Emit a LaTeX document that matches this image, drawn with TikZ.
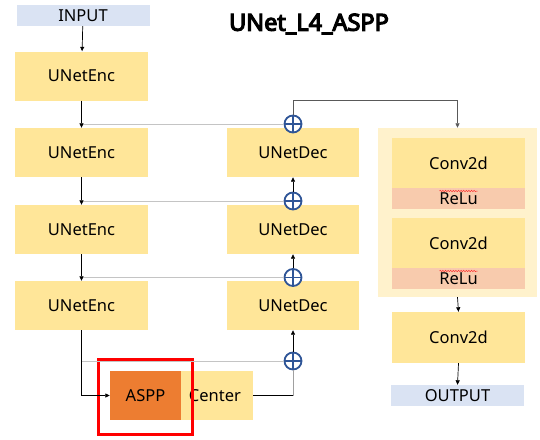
\documentclass[tikz,border=0pt]{standalone}
\usepackage{fontspec}
\setmainfont{Noto Sans}
\newfontfamily\titlefont{Noto Sans}[FakeBold=5]
\usetikzlibrary{arrows.meta,decorations.pathmorphing}
\definecolor{inblue}{HTML}{DAE3F3}
\definecolor{yel}{HTML}{FFE699}
\definecolor{lyel}{HTML}{FFF2CC}
\definecolor{peach}{HTML}{F8CBAD}
\definecolor{orng}{HTML}{ED7D31}
\definecolor{plusblue}{HTML}{2F5597}
\definecolor{skipgray}{HTML}{C4C4C4}
\definecolor{midgray}{HTML}{A0A0A0}
\definecolor{dkgray}{HTML}{595959}
\begin{document}
\begin{tikzpicture}[x=1pt,y=-1pt,
  every node/.style={font=\fontsize{16.5}{18}\selectfont, text=black},
  box/.style={rectangle, inner sep=0pt, minimum width=133pt, minimum height=49pt, fill=yel},
  iobox/.style={rectangle, inner sep=0pt, minimum width=133pt, minimum height=21pt, fill=inblue},
  relubox/.style={rectangle, inner sep=0pt, minimum width=133pt, minimum height=21pt, fill=peach},
  plus/.style={circle, draw=plusblue, line width=1.8pt, fill=white, minimum size=17pt, inner sep=0pt,
    path picture={\draw[plusblue, line width=1.6pt]
      (path picture bounding box.north) -- (path picture bounding box.south)
      (path picture bounding box.west) -- (path picture bounding box.east);}},
  arr/.style={-{Triangle[length=4.5pt,width=4pt]}, line width=0.7pt, draw=black},
  skip/.style={line width=1pt, draw=skipgray},
  squig/.style={red!80, line width=0.5pt, decorate, decoration={snake, amplitude=0.7pt, segment length=2.6pt}}
]
\useasboundingbox (0,0) rectangle (540,439);

% title
\node[font=\titlefont\fontsize{23.5}{26}\selectfont, text=black] (title) at (309,24) {UNet\_L4\_ASPP};

% encoder
\node[iobox] (input) at (83,15.5) {INPUT};
\node[box] (enc1) at (81.5,76) {UNetEnc};
\node[box] (enc2) at (81.5,152.5) {UNetEnc};
\node[box] (enc3) at (81.5,229.5) {UNetEnc};
\node[box] (enc4) at (81.5,305.5) {UNetEnc};

% decoder
\node[box, minimum width=132pt] (dec1) at (293,152.5) {UNetDec};
\node[box, minimum width=132pt] (dec2) at (293,229.5) {UNetDec};
\node[box, minimum width=132pt] (dec3) at (293,305.5) {UNetDec};

% bottleneck
\node[box, minimum width=72pt] (center) at (217,395.5) {\hspace*{-4pt}Center};
\node[box, minimum width=71pt, fill=orng] (aspp) at (145.5,395.5) {ASPP};
\node[rectangle, draw=red, line width=2.8pt, minimum width=94pt, minimum height=75pt, inner sep=0pt] (redbox) at (145.5,397) {};

% head
\node[rectangle, fill=lyel, minimum width=159pt, minimum height=169pt, inner sep=0pt] (container) at (457.5,212.5) {};
\node[box, minimum height=50pt] (conv1) at (458.5,163) {Conv2d};
\node[relubox] (relu1) at (458.5,198.5) {ReLu};
\node[box, minimum height=50pt] (conv2) at (458.5,243) {Conv2d};
\node[relubox] (relu2) at (458.5,278.5) {ReLu};
\node[box, minimum height=51pt] (conv3) at (458.5,337.5) {Conv2d};
\node[iobox] (output) at (457.5,395.5) {OUTPUT};
\draw[squig] ([xshift=-19pt,yshift=7.5pt]relu1.center) -- ([xshift=19pt,yshift=7.5pt]relu1.center);
\draw[squig] ([xshift=-19pt,yshift=7.5pt]relu2.center) -- ([xshift=19pt,yshift=7.5pt]relu2.center);

% plus nodes
\node[plus] (p1) at (293,124) {};
\node[plus] (p2) at (293,201) {};
\node[plus] (p3) at (293,277.5) {};
\node[plus] (p4) at (293,361) {};

% skip coordinates
\coordinate (s1) at (enc1.south |- p1);
\coordinate (s2) at (enc2.south |- p2);
\coordinate (s3) at (enc3.south |- p3);
\coordinate (s4) at (enc4.south |- p4);
\coordinate (t1) at (293,100);
\coordinate (cr) at (center.east -| p4);

% skip lines
\draw[skip] (s1) -- (p1.west);
\draw[skip] (s2) -- (p2.west);
\draw[skip] (s3) -- (p3.west);
\draw[skip] (s4) -- (p4.west);

% encoder arrows
\draw[arr] (input) -- (enc1);
\draw[arr] (enc1) -- (enc2);
\draw[arr] (enc2) -- (enc3);
\draw[arr] (enc3) -- (enc4);
\draw[arr] (enc4.south) |- (aspp.west);

% center to plus
\draw[line width=0.7pt] (center.east) -- (cr);
\draw[line width=1pt, midgray] (cr) -- (p4.south);

% decoder arrows
\draw[arr] (p4.north) -- (dec3.south);
\draw[arr] (p3.north) -- (dec2.south);
\draw[arr] (p2.north) -- (dec1.south);
\draw[arr, draw=dkgray] (p1.north) -- (t1) -| (container.north);

% head arrows
\draw[arr] (container.south) -- (conv3.north);
\draw[arr] (conv3.south) -- (output.north);
\end{tikzpicture}
\end{document}
